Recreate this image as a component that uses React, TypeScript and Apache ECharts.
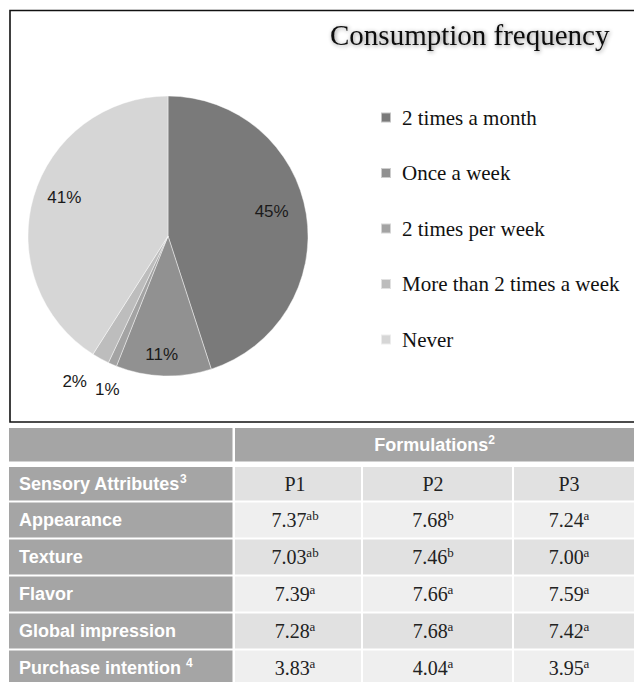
import React, { useEffect, useRef } from "react";
import * as echarts from "echarts";

// ---- Pie data ----
const pieCategories = [
  "2 times a month",
  "Once a week",
  "2 times per week",
  "More than 2 times a week",
  "Never",
];
const pieValues = [45, 11, 1, 2, 41];
const pieColors = ["#7a7a7a", "#919191", "#a3a3a3", "#bdbdbd", "#d6d6d6"];
const pieTitle = "Consumption frequency";

// ---- Table data ----
const formulationsHeader = "Formulations";
const formulationsNote = "2";
const attributesHeader = "Sensory Attributes";
const attributesNote = "3";
const formulations = ["P1", "P2", "P3"];
const attributes = ["Appearance", "Texture", "Flavor", "Global impression", "Purchase intention "];
const attributeNotes = ["", "", "", "", "4"];
const p1Values = ["7.37", "7.03", "7.39", "7.28", "3.83"];
const p1Letters = ["ab", "ab", "a", "a", "a"];
const p2Values = ["7.68", "7.46", "7.66", "7.68", "4.04"];
const p2Letters = ["b", "b", "a", "a", "a"];
const p3Values = ["7.24", "7.00", "7.59", "7.42", "3.95"];
const p3Letters = ["a", "a", "a", "a", "a"];

// ---- Layout (positions / sizes / styles) ----
const PIE_CENTER = [168, 236];
const PIE_R = 140;
const LABEL_NUDGE: Record<number, [number, number]> = {
  0: [-3, -8],
  1: [-3, 11],
  2: [8, -5],
  3: [-10, -6],
  4: [0, -8],
};
const COL_X = [9, 235, 363, 514, 660]; // column edges
const COL_TEXT_X = [295, 433, 569];
const ROW_TOP = [428, 467, 502.5, 539.5, 576.5, 613.5, 650.5];
const ROW_H = [33.5, 33.5, 35, 35, 35, 35, 40];
const SANS = "'Liberation Sans', Arial, sans-serif";
const SERIF = "'Liberation Serif', 'Times New Roman', serif";

export default function App() {
  const ref = useRef<HTMLDivElement>(null);

  useEffect(() => {
    if (!ref.current) return;
    const chart = echarts.init(ref.current, undefined, { renderer: "svg" });

    const pieData = pieCategories.map((name, i) => ({
      name,
      value: pieValues[i],
      itemStyle: { color: pieColors[i] },
    }));
    const isSmall = (v: number) => v < 5;

    const graphics: any[] = [];
    // chart box border
    graphics.push({
      type: "rect",
      shape: { x: 10, y: 10.5, width: 660, height: 411.5 },
      style: { fill: "none", stroke: "#111", lineWidth: 1.6 },
      silent: true,
    });

    const darkFill = "#a5a5a5";
    const lightFills = ["#e1e1e1", "#efefef"];
    const valRich = {
      v: { fontFamily: SERIF, fontSize: 20, lineHeight: 22, fill: "#222" },
      s: { fontFamily: SERIF, fontSize: 13, lineHeight: 15, verticalAlign: "top", fill: "#222" },
    };
    const headRich = {
      h: { fontFamily: SANS, fontSize: 18, fontWeight: "bold", lineHeight: 22, fill: "#fff" },
      s: { fontFamily: SANS, fontSize: 12, fontWeight: "bold", lineHeight: 14, verticalAlign: "top", fill: "#fff" },
    };

    // Row 0: header
    graphics.push({
      type: "rect",
      shape: { x: COL_X[0], y: ROW_TOP[0], width: COL_X[1] - 2.5 - COL_X[0], height: ROW_H[0] },
      style: { fill: darkFill },
    });
    graphics.push({
      type: "rect",
      shape: { x: COL_X[1], y: ROW_TOP[0], width: COL_X[4] - COL_X[1], height: ROW_H[0] },
      style: { fill: darkFill },
    });
    graphics.push({
      type: "text",
      x: (COL_X[1] + 634) / 2,
      y: ROW_TOP[0] + ROW_H[0] / 2,
      style: {
        text: `{h|${formulationsHeader}}{s|${formulationsNote}}`,
        rich: headRich,
        align: "center",
        verticalAlign: "middle",
      },
    });

    const valueCols = [
      [p1Values, p1Letters],
      [p2Values, p2Letters],
      [p3Values, p3Letters],
    ];

    for (let r = 1; r < ROW_TOP.length; r++) {
      const y = ROW_TOP[r];
      const h = ROW_H[r];
      const fill = lightFills[(r + 1) % 2];
      graphics.push({
        type: "rect",
        shape: { x: COL_X[0], y, width: COL_X[1] - 2.5 - COL_X[0], height: h },
        style: { fill: darkFill },
      });
      for (let c = 0; c < 3; c++) {
        graphics.push({
          type: "rect",
          shape: { x: COL_X[c + 1], y, width: COL_X[c + 2] - 2 - COL_X[c + 1], height: h },
          style: { fill },
        });
      }
      const label = r === 1 ? attributesHeader : attributes[r - 2];
      const note = r === 1 ? attributesNote : attributeNotes[r - 2];
      graphics.push({
        type: "text",
        x: 19,
        y: y + 17,
        style: {
          text: note ? `{h|${label}}{s|${note}}` : `{h|${label}}`,
          rich: headRich,
          align: "left",
          verticalAlign: "middle",
        },
      });
      for (let c = 0; c < 3; c++) {
        let text: string;
        if (r === 1) {
          text = `{v|${formulations[c]}}`;
        } else {
          const [vals, lets] = valueCols[c];
          text = `{v|${vals[r - 2]}}{s|${lets[r - 2]}}`;
        }
        graphics.push({
          type: "text",
          x: COL_TEXT_X[c],
          y: y + 17,
          style: { text, rich: valRich, align: "center", verticalAlign: "middle" },
        });
      }
    }

    const labelLayout = (p: any) => {
      const n = LABEL_NUDGE[p.dataIndex] || [0, 0];
      return { dx: n[0], dy: n[1] };
    };
    const labelStyle = {
      show: true,
      position: "inside",
      formatter: "{c}%",
      fontFamily: SANS,
      fontSize: 17,
      color: "#1a1a1a",
    };

    chart.setOption({
      animation: false,
      backgroundColor: "#ffffff",
      title: {
        text: pieTitle,
        left: 325,
        top: 15,
        textStyle: {
          fontFamily: SERIF,
          fontSize: 29,
          fontWeight: "normal",
          color: "#111",
          textShadowColor: "rgba(0,0,0,0.45)",
          textShadowBlur: 4,
          textShadowOffsetX: 1,
          textShadowOffsetY: 1,
        },
      },
      legend: {
        orient: "vertical",
        left: 375,
        top: 100,
        icon: "rect",
        itemWidth: 10,
        itemHeight: 10,
        itemGap: 30.5,
        selectedMode: false,
        data: pieCategories,
        textStyle: {
          fontFamily: SERIF,
          fontSize: 21,
          lineHeight: 20,
          color: "#111",
          padding: [5, 0, 0, 6],
        },
      },
      series: [
        {
          type: "pie",
          center: PIE_CENTER,
          radius: [0, PIE_R],
          startAngle: 90,
          clockwise: true,
          silent: true,
          data: pieData,
          label: { show: false },
          labelLine: { show: false },
          itemStyle: { borderColor: "rgba(255,255,255,0.55)", borderWidth: 0.8 },
        },
        {
          type: "pie",
          center: PIE_CENTER,
          radius: [PIE_R / 2, PIE_R],
          startAngle: 90,
          silent: true,
          legendHoverLink: false,
          data: pieData.map((d) => ({
            ...d,
            itemStyle: { color: "rgba(0,0,0,0)" },
            label: { show: !isSmall(d.value) },
          })),
          label: labelStyle,
          labelLine: { show: false },
          labelLayout,
        },
        {
          type: "pie",
          center: PIE_CENTER,
          radius: [PIE_R + 10, PIE_R + 50],
          startAngle: 90,
          silent: true,
          legendHoverLink: false,
          data: pieData.map((d) => ({
            ...d,
            itemStyle: { color: "rgba(0,0,0,0)" },
            label: { show: isSmall(d.value) },
          })),
          label: labelStyle,
          labelLine: { show: false },
          labelLayout,
        },
      ],
      graphic: graphics,
    });

    return () => chart.dispose();
  }, []);

  return (
    <div
      ref={ref}
      style={{ position: "absolute", left: 0, top: 0, width: 634, height: 682 }}
    />
  );
}
